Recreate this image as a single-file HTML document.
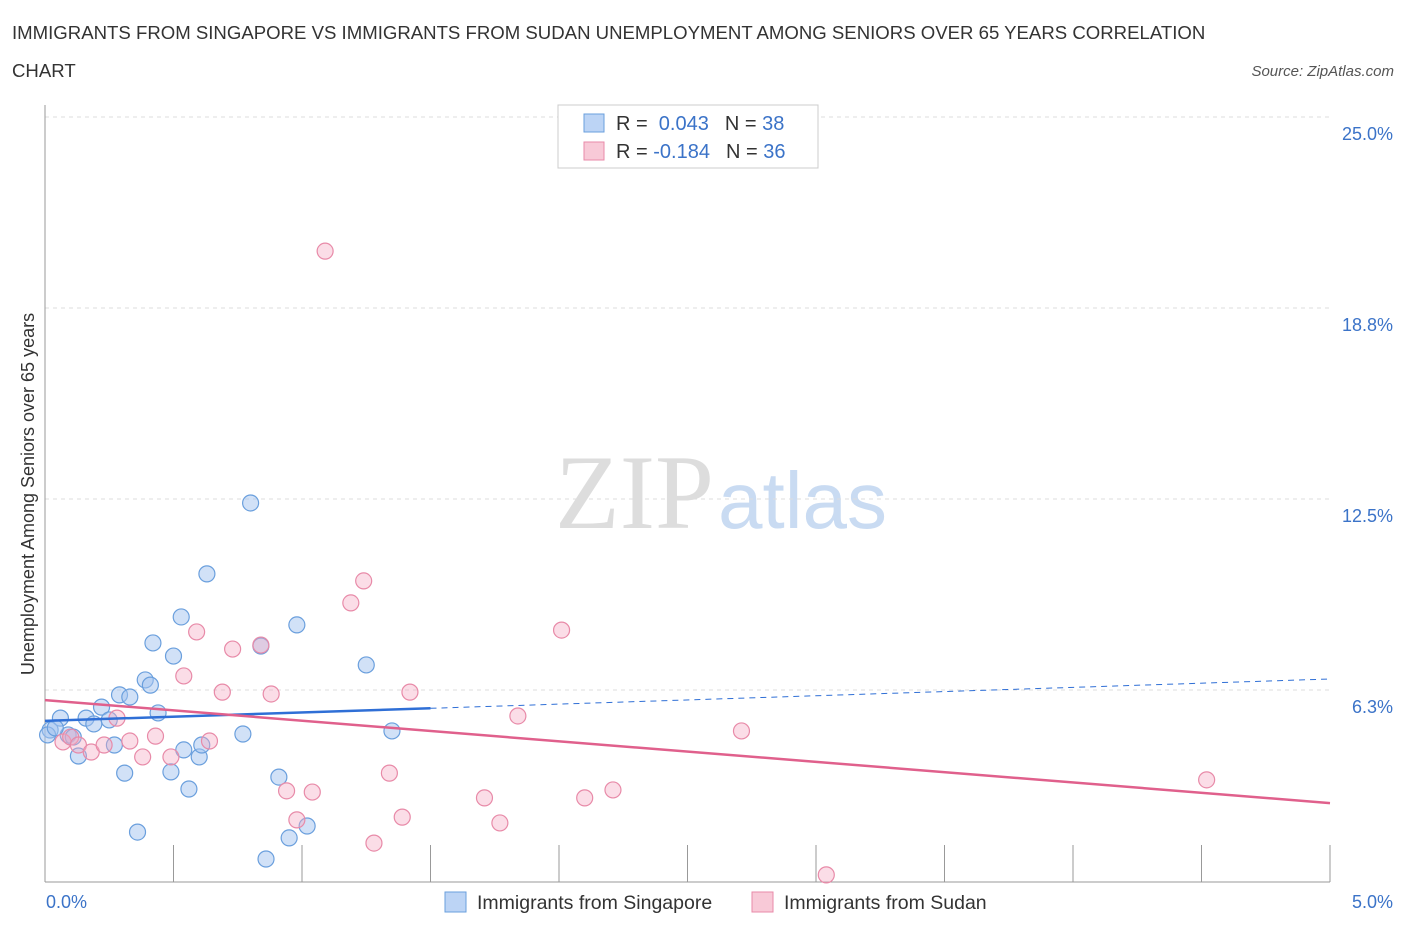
<!DOCTYPE html>
<html><head><meta charset="utf-8"><style>
body{margin:0;background:#fff;font-family:"Liberation Sans",sans-serif}
</style></head><body>
<svg width="1406" height="930" xmlns="http://www.w3.org/2000/svg" font-family="Liberation Sans, sans-serif">
<text x="12" y="39" font-size="18.6" fill="#333">IMMIGRANTS FROM SINGAPORE VS IMMIGRANTS FROM SUDAN UNEMPLOYMENT AMONG SENIORS OVER 65 YEARS CORRELATION</text>
<text x="12" y="77" font-size="18.6" fill="#333">CHART</text>
<text x="1394" y="76" font-size="15" font-style="italic" fill="#555" text-anchor="end">Source: ZipAtlas.com</text>
<text x="555" y="528" font-size="106" font-family="Liberation Serif, serif" fill="#ddd">ZIP</text>
<text x="718" y="528" font-size="80" fill="#c9dbf2">atlas</text>
<g id="grid"></g>
<g id="marks"></g>
<text transform="translate(34,494) rotate(-90)" font-size="18" fill="#333" text-anchor="middle">Unemployment Among Seniors over 65 years</text>
<text x="46" y="908" font-size="18" fill="#3b73c8">0.0%</text>
<text x="1393" y="908" font-size="18" fill="#3b73c8" text-anchor="end">5.0%</text>
<g>
<rect x="558" y="105" width="260" height="63" fill="#fff" stroke="#ccc"/>
<rect x="584" y="114" width="20" height="18" fill="#bcd4f5" stroke="#6a9fdd"/>
<rect x="584" y="142" width="20" height="18" fill="#f8c9d7" stroke="#e88aa8"/>
<text x="616" y="130" font-size="20" fill="#333">R = <tspan fill="#3b73c8">&#160;0.043</tspan><tspan dx="16">N = </tspan><tspan fill="#3b73c8">38</tspan></text>
<text x="616" y="158" font-size="20" fill="#333">R = <tspan fill="#3b73c8">-0.184</tspan><tspan dx="16">N = </tspan><tspan fill="#3b73c8">36</tspan></text>
</g>
<g>
<rect x="445" y="892" width="21" height="20" fill="#bcd4f5" stroke="#6a9fdd"/>
<text x="477" y="909" font-size="19.5" fill="#333">Immigrants from Singapore</text>
<rect x="752" y="892" width="21" height="20" fill="#f8c9d7" stroke="#e88aa8"/>
<text x="784" y="909" font-size="19.5" fill="#333">Immigrants from Sudan</text>
</g>
</svg>
<script>
const yTicks=[25.0,18.8,12.5,6.3];
const yTickVals=[25,18.75,12.5,6.25];
const xTickVals=[0.5,1,1.5,2,2.5,3,3.5,4,4.5,5];
const blueX=[0.02,0.06,0.09,0.11,0.13,0.16,0.19,0.22,0.25,0.27,0.29,0.31,0.33,0.36,0.39,0.41,0.42,0.44,0.49,0.50,0.53,0.54,0.56,0.60,0.61,0.63,0.77,0.80,0.84,0.86,0.91,0.95,0.98,1.02,1.25,1.35,0.01,0.04];
const blueY=[4.94,5.33,4.78,4.71,4.09,5.33,5.14,5.69,5.27,4.45,6.09,3.53,6.02,1.60,6.58,6.41,7.79,5.50,3.57,7.36,8.64,4.29,3.01,4.06,4.45,10.05,4.81,12.37,7.69,0.72,3.40,1.41,8.38,1.80,7.07,4.91,4.78,5.01];
const pinkX=[0.07,0.10,0.13,0.18,0.23,0.28,0.33,0.38,0.43,0.49,0.54,0.59,0.64,0.69,0.73,0.84,0.88,0.94,0.98,1.04,1.09,1.19,1.24,1.28,1.34,1.39,1.42,1.71,1.77,1.84,2.01,2.10,2.21,2.71,3.04,4.52];
const pinkY=[4.55,4.71,4.45,4.22,4.45,5.33,4.58,4.06,4.74,4.06,6.71,8.15,4.58,6.18,7.59,7.72,6.12,2.95,2.00,2.91,20.61,9.10,9.82,1.24,3.53,2.09,6.18,2.72,1.90,5.40,8.21,2.72,2.98,4.91,0.20,3.31];
const blueTrend=[5.24,6.61];
const pinkTrend=[5.92,2.55];
const NS='http://www.w3.org/2000/svg';
const X=v=>45+v*257;
const Y=v=>881-v*30.56;
function mk(t,a,p){const e=document.createElementNS(NS,t);for(const k in a)e.setAttribute(k,a[k]);p.appendChild(e);return e;}
const grid=document.getElementById('grid'),marks=document.getElementById('marks');
yTickVals.forEach((v,i)=>{
 const l=mk('line',{x1:45,x2:1330,y1:Y(v),y2:Y(v),stroke:'#ddd','stroke-dasharray':'4,4'},grid);
 
 
 const t=mk('text',{x:1393,y:Y(v)+23,'font-size':18,fill:'#3b73c8','text-anchor':'end'},grid);
 t.textContent=yTicks[i].toFixed(1)+'%';
 
 
});
const ax=mk('line',{x1:45,x2:45,y1:105,y2:882,stroke:'#999'},grid);


const bx=mk('line',{x1:45,x2:1330,y1:882,y2:882,stroke:'#999'},grid);


xTickVals.forEach(v=>{
 const l=mk('line',{x1:X(v),x2:X(v),y1:845,y2:882,stroke:'#999'},grid);
 
 
});
blueX.forEach((v,i)=>{
 const c=mk('circle',{cx:X(v),cy:Y(blueY[i]),r:8,fill:'rgba(164,196,240,0.5)',stroke:'#6a9fdd','stroke-width':1.2},marks);
 
 
});
pinkX.forEach((v,i)=>{
 const c=mk('circle',{cx:X(v),cy:Y(pinkY[i]),r:8,fill:'rgba(244,170,195,0.4)',stroke:'#e88aa8','stroke-width':1.2},marks);
 
 
});
const bAt=x=>blueTrend[0]+(blueTrend[1]-blueTrend[0])*x/5;
const t1=mk('line',{x1:X(0),y1:Y(bAt(0)),x2:X(1.5),y2:Y(bAt(1.5)),stroke:'#2f6fd6','stroke-width':2.5},marks);


const t2=mk('line',{x1:X(1.5),y1:Y(bAt(1.5)),x2:X(5),y2:Y(bAt(5)),stroke:'#2f6fd6','stroke-width':1,'stroke-dasharray':'6,5'},marks);


const t3=mk('line',{x1:X(0),y1:Y(pinkTrend[0]),x2:X(5),y2:Y(pinkTrend[1]),stroke:'#e0608c','stroke-width':2.5},marks);


</script>
</body></html>
